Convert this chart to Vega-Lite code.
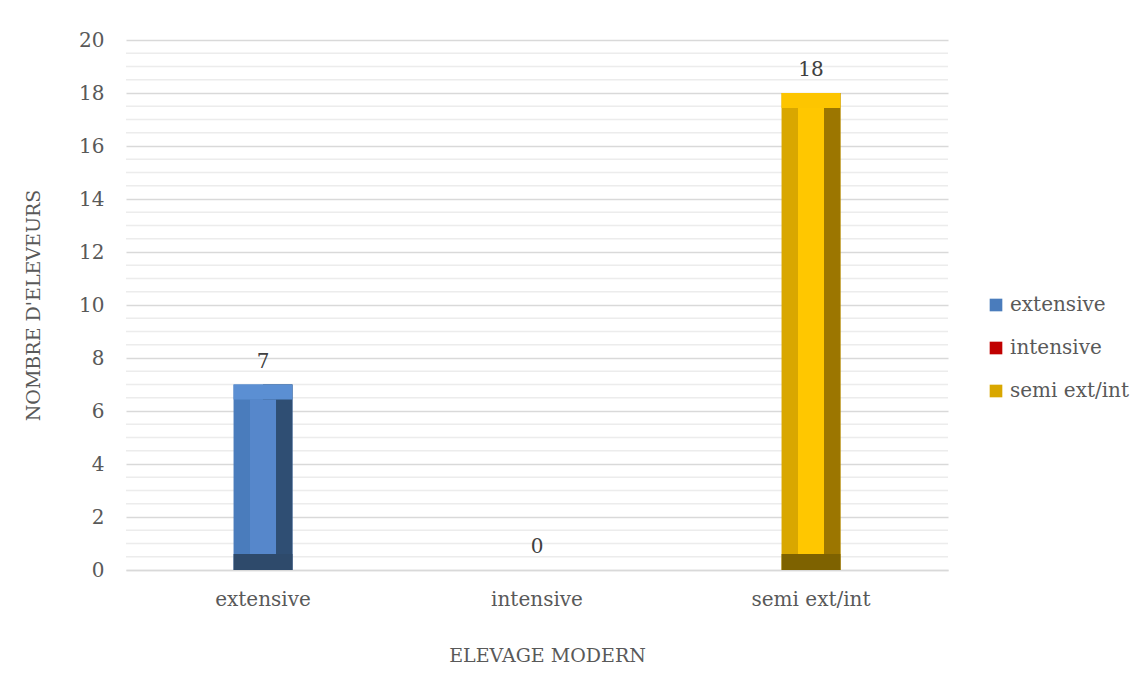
{
  "$schema": "https://vega.github.io/schema/vega-lite/v6.json",
  "autosize": "none",
  "width": 822,
  "height": 530,
  "padding": {"left": 126, "top": 40, "right": 199, "bottom": 104},
  "background": "white",
  "config": {
    "font": "DejaVu Serif",
    "view": {"stroke": null},
    "axis": {"labelFont": "DejaVu Serif", "titleFont": "DejaVu Serif", "labelColor": "#595959", "titleColor": "#595959", "titleFontWeight": "normal"},
    "legend": {"labelFont": "DejaVu Serif", "labelColor": "#595959"}
  },
  "data": {"values": [
    {"type": "extensive", "n": 7},
    {"type": "intensive", "n": 0},
    {"type": "semi ext/int", "n": 18}
  ]},
  "encoding": {
    "x": {
      "field": "type", "type": "nominal", "sort": null,
      "scale": {"paddingInner": 0, "paddingOuter": 0},
      "axis": {
        "title": "ELEVAGE MODERN", "labelAngle": 0, "labelFontSize": 20, "labelPadding": 19,
        "ticks": false, "domainColor": "#d9d9d9", "domainWidth": 1.5,
        "titleFontSize": 19, "titleX": 421, "titleY": 85, "titleBaseline": "middle"
      }
    }
  },
  "layer": [
    {
      "mark": {"type": "rule", "color": "#ececec", "strokeWidth": 1.3},
      "data": {"values": [
        {"g": 0.5}, {"g": 1}, {"g": 1.5}, {"g": 2.5}, {"g": 3}, {"g": 3.5}, {"g": 4.5}, {"g": 5}, {"g": 5.5},
        {"g": 6.5}, {"g": 7}, {"g": 7.5}, {"g": 8.5}, {"g": 9}, {"g": 9.5}, {"g": 10.5}, {"g": 11}, {"g": 11.5},
        {"g": 12.5}, {"g": 13}, {"g": 13.5}, {"g": 14.5}, {"g": 15}, {"g": 15.5}, {"g": 16.5}, {"g": 17}, {"g": 17.5},
        {"g": 18.5}, {"g": 19}, {"g": 19.5}
      ]},
      "encoding": {
        "x": null,
        "y": {"field": "g", "type": "quantitative"}
      }
    },
    {
      "mark": {"type": "bar", "width": {"band": 0.215}},
      "encoding": {
        "y": {
          "field": "n", "type": "quantitative",
          "scale": {"domain": [0, 20], "nice": false},
          "axis": {
            "title": "NOMBRE D'ELEVEURS", "titleFontSize": 19, "titleX": -93, "titleY": 265, "titleBaseline": "middle",
            "values": [0, 2, 4, 6, 8, 10, 12, 14, 16, 18, 20],
            "labelFontSize": 20, "labelPadding": 22, "ticks": false, "domain": false,
            "gridColor": "#d9d9d9", "gridWidth": 1.3
          }
        },
        "color": {
          "field": "type", "type": "nominal", "sort": null,
          "scale": {"domain": ["extensive", "intensive", "semi ext/int"], "range": ["#4a7cbc", "#c00000", "#d9a700"]},
          "legend": {
            "title": null, "orient": "none", "legendX": 860, "legendY": 255,
            "symbolType": "square", "symbolSize": 160, "symbolStrokeWidth": 0,
            "labelFontSize": 20, "labelOffset": 4, "rowPadding": 23
          }
        }
      }
    },
    {
      "transform": [{"filter": "datum.n > 0"}],
      "mark": {"type": "bar", "width": {"band": 0.1075}, "xOffset": 14.7},
      "encoding": {
        "y": {"field": "n", "type": "quantitative"},
        "color": {"field": "type", "type": "nominal", "scale": {"domain": ["extensive", "semi ext/int"], "range": ["#2f4e73", "#9c7600"]}, "legend": null}
      }
    },
    {
      "transform": [{"filter": "datum.n > 0"}],
      "mark": {"type": "bar", "width": {"band": 0.215}, "y2Offset": 15},
      "encoding": {
        "y": {"field": "n", "type": "quantitative"},
        "y2": {"field": "n"},
        "color": {"field": "type", "type": "nominal", "scale": {"domain": ["extensive", "semi ext/int"], "range": ["#5b8fd3", "#fdc500"]}, "legend": null}
      }
    },
    {
      "transform": [{"filter": "datum.n > 0"}],
      "mark": {"type": "bar", "width": {"band": 0.215}, "yOffset": -16},
      "encoding": {
        "y": {"datum": 0, "type": "quantitative"},
        "y2": {"datum": 0},
        "color": {"field": "type", "type": "nominal", "scale": {"domain": ["extensive", "semi ext/int"], "range": ["#2e4a6b", "#7e6200"]}, "legend": null}
      }
    },
    {
      "transform": [{"filter": "datum.n > 0"}],
      "mark": {"type": "bar", "width": {"band": 0.095}, "yOffset": 15, "y2Offset": -16},
      "encoding": {
        "y": {"field": "n", "type": "quantitative"},
        "y2": {"datum": 0},
        "color": {"field": "type", "type": "nominal", "scale": {"domain": ["extensive", "semi ext/int"], "range": ["#5687cb", "#ffc700"]}, "legend": null}
      }
    },
    {
      "mark": {"type": "text", "dy": -13, "fontSize": 20, "color": "#404040", "baseline": "bottom", "font": "DejaVu Serif"},
      "encoding": {
        "y": {"field": "n", "type": "quantitative"},
        "text": {"field": "n", "type": "quantitative"}
      }
    }
  ],
  "resolve": {"scale": {"color": "independent"}}
}
